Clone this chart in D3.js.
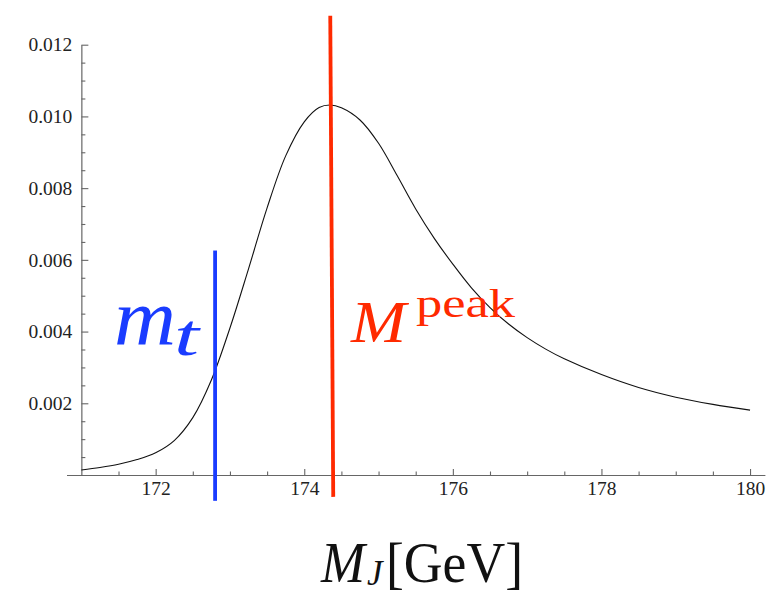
<!DOCTYPE html>
<html>
<head>
<meta charset="utf-8">
<script src="https://cdn.jsdelivr.net/npm/d3@7"></script>
<style>
  body { margin: 0; background: #fff; }
  svg { display: block; }
</style>
</head>
<body>
<svg id="chart" width="781" height="592"></svg>
<script>
// Jet mass distribution (arbitrary normalisation) vs M_J in GeV
const massGeV = [171.0, 171.25, 171.5, 171.75, 172.0, 172.25, 172.5, 172.75, 173.0, 173.25,
  173.5, 173.75, 174.0, 174.2, 174.35, 174.5, 174.75, 175.0, 175.25, 175.5,
  175.75, 176.0, 176.25, 176.5, 176.75, 177.0, 177.25, 177.5, 178.0, 178.5, 179.0, 179.5, 180.0];
const density = [0.00014, 0.00021, 0.0003, 0.00043, 0.00062, 0.00096, 0.0016, 0.00265, 0.0041, 0.00575,
  0.00745, 0.0089, 0.00985, 0.01025, 0.01032, 0.01024, 0.0099, 0.00925, 0.00835, 0.00742,
  0.0066, 0.00588, 0.00522, 0.00467, 0.00421, 0.00383, 0.00351, 0.00324, 0.0028, 0.00244, 0.00217, 0.00197, 0.00181];

// Marker lines: top-quark mass and the distribution peak (x and y at each end)
const topMassX = [172.8, 172.8];
const topMassY = [-0.00072, 0.00626];
const peakMassX = [174.39, 174.35];
const peakMassY = [-0.00061, 0.01281];

// Axis ticks
const xMajorTicks = [172, 174, 176, 178, 180];
const xMinorTicks = [171.5, 172.5, 173, 173.5, 174.5, 175, 175.5, 176.5, 177, 177.5, 178.5, 179, 179.5];
const yMajorTicks = [0.002, 0.004, 0.006, 0.008, 0.010, 0.012];
const yMinorTicks = [0.0005, 0.001, 0.0015, 0.0025, 0.003, 0.0035, 0.0045, 0.005, 0.0055,
  0.0065, 0.007, 0.0075, 0.0085, 0.009, 0.0095, 0.0105, 0.011, 0.0115];

const svg = d3.select("#chart");
const serif = "Liberation Serif, Times New Roman, Times, serif";
const axisColor = "#666";
const tickTextColor = "#222";

const x = d3.scaleLinear().domain([170.8, 180.2]).range([66.5, 764.9]);
const y = d3.scaleLinear().domain([0, 0.012]).range([475, 44.7]);

function styleAxis(g) {
  g.selectAll(".domain").attr("stroke", axisColor).attr("stroke-width", 1.2);
  g.selectAll(".tick line").attr("stroke", axisColor).attr("stroke-width", 1.1);
  g.selectAll(".tick text")
    .attr("fill", tickTextColor)
    .style("font-family", serif)
    .style("font-size", "19.5px");
}

// x axis (ticks point inward)
const gxMinor = svg.append("g").attr("transform", `translate(0,${y(0)})`)
  .call(d3.axisBottom(x).tickValues(xMinorTicks).tickFormat(() => "").tickSizeInner(-3.5).tickSizeOuter(0));
gxMinor.select(".domain").remove();
styleAxis(gxMinor);

const gx = svg.append("g").attr("transform", `translate(0,${y(0)})`)
  .call(d3.axisBottom(x).tickValues(xMajorTicks).tickFormat(d3.format("d"))
    .tickSizeInner(-6).tickSizeOuter(0).tickPadding(6.5));
styleAxis(gx);

// y axis at M_J = 171
const gyMinor = svg.append("g").attr("transform", `translate(${x(171)},0)`)
  .call(d3.axisLeft(y).tickValues(yMinorTicks).tickFormat(() => "").tickSizeInner(-4).tickSizeOuter(0));
gyMinor.select(".domain").remove();
styleAxis(gyMinor);

const gy = svg.append("g").attr("transform", `translate(${x(171)},0)`)
  .call(d3.axisLeft(y).tickValues(yMajorTicks).tickFormat(d3.format(".3f"))
    .tickSizeInner(-7).tickSizeOuter(0).tickPadding(9));
styleAxis(gy);

// distribution curve
const pts = massGeV.map((m, i) => [m, density[i]]);
svg.append("path")
  .datum(pts)
  .attr("fill", "none")
  .attr("stroke", "#111")
  .attr("stroke-width", 1.1)
  .attr("d", d3.line().x(d => x(d[0])).y(d => y(d[1])).curve(d3.curveCatmullRom.alpha(0.5)));

// vertical marker lines
const seg = d3.line().x(d => x(d[0])).y(d => y(d[1]));
svg.append("path")
  .datum(topMassX.map((v, i) => [v, topMassY[i]]))
  .attr("fill", "none").attr("stroke", "#1a3cff").attr("stroke-width", 3.8)
  .attr("d", seg);
svg.append("path")
  .datum(peakMassX.map((v, i) => [v, peakMassY[i]]))
  .attr("fill", "none").attr("stroke", "#ff2a00").attr("stroke-width", 3.8)
  .attr("d", seg);

// m_t label
svg.append("text")
  .attr("x", 114).attr("y", 344)
  .style("font-family", serif).attr("font-style", "italic").attr("font-size", 80)
  .attr("fill", "#1a3cff")
  .attr("textLength", 62).attr("lengthAdjust", "spacingAndGlyphs")
  .text("m");
svg.append("text")
  .attr("x", 174).attr("y", 355)
  .style("font-family", serif).attr("font-style", "italic").attr("font-size", 60)
  .attr("fill", "#1a3cff")
  .attr("textLength", 25).attr("lengthAdjust", "spacingAndGlyphs")
  .text("t");

// M^peak label
svg.append("text")
  .attr("x", 351).attr("y", 341.5)
  .style("font-family", serif).attr("font-style", "italic").attr("font-size", 60)
  .attr("fill", "#ff2a00")
  .attr("textLength", 55).attr("lengthAdjust", "spacingAndGlyphs")
  .text("M");
svg.append("text")
  .attr("x", 416).attr("y", 316.5)
  .style("font-family", serif).attr("font-size", 41)
  .attr("fill", "#ff2a00")
  .attr("textLength", 99).attr("lengthAdjust", "spacingAndGlyphs")
  .text("peak");

// x axis title: M_J [GeV]
svg.append("text")
  .attr("x", 321).attr("y", 581.5)
  .style("font-family", serif).attr("font-style", "italic").attr("font-size", 57)
  .attr("fill", "#111")
  .attr("textLength", 44).attr("lengthAdjust", "spacingAndGlyphs")
  .text("M");
svg.append("text")
  .attr("x", 367).attr("y", 585)
  .style("font-family", serif).attr("font-style", "italic").attr("font-size", 35)
  .attr("fill", "#111")
  .text("J");
svg.append("text")
  .attr("x", 386).attr("y", 581.5)
  .style("font-family", serif).attr("font-size", 56)
  .attr("fill", "#111")
  .attr("textLength", 137).attr("lengthAdjust", "spacingAndGlyphs")
  .text("[GeV]");
</script>
</body>
</html>
